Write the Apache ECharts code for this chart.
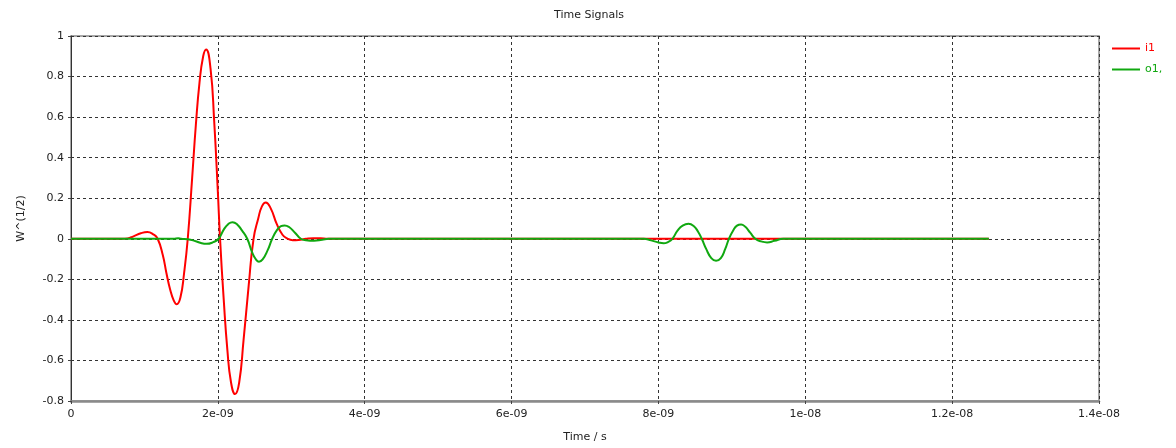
<!DOCTYPE html>
<html>
<head>
<meta charset="utf-8">
<script src="https://cdn.jsdelivr.net/npm/echarts@6/dist/echarts.min.js"></script>
<style>
html,body{margin:0;padding:0;background:#fff;}
#chart{width:1176px;height:448px;}
</style>
</head>
<body>
<div id="chart"></div>
<script>
// Time axis in nanoseconds (tick labels give the seconds notation)
var xTickLabels = ['0', '2e-09', '4e-09', '6e-09', '8e-09', '1e-08', '1.2e-08', '1.4e-08'];

// i1 : time (ns), value
var i1Time = [0, 0.6, 0.7, 0.77, 0.85, 0.95, 1.04, 1.12, 1.18, 1.25, 1.3, 1.35, 1.4, 1.44, 1.49, 1.54, 1.59,
  1.65, 1.7, 1.75, 1.8, 1.84, 1.9, 1.95, 2.0, 2.03, 2.08, 2.13, 2.18, 2.235, 2.29, 2.35, 2.42, 2.486,
  2.55, 2.6, 2.653, 2.72, 2.8, 2.88, 2.95, 3.02, 3.1, 3.2, 3.3, 3.4, 3.5, 3.6, 7.7, 7.8, 9.7, 9.8, 12.5];
var i1Value = [0, 0, 0, 0.002, 0.012, 0.027, 0.033, 0.022, 0, -0.08, -0.17, -0.25, -0.305, -0.323, -0.29, -0.17, 0,
  0.3, 0.56, 0.77, 0.9, 0.934, 0.84, 0.58, 0.23, 0, -0.3, -0.55, -0.71, -0.766, -0.71, -0.5, -0.23, 0,
  0.1, 0.16, 0.179, 0.15, 0.075, 0.02, 0, -0.007, -0.006, 0, 0.003, 0.002, 0, 0, 0, 0, 0, 0, 0];

// o1, : time (ns), value
var o1Time = [0, 1.3, 1.4, 1.46, 1.5, 1.59, 1.7, 1.78, 1.846, 1.93, 2.01, 2.08, 2.14, 2.2, 2.26, 2.33, 2.40,
  2.47, 2.52, 2.56, 2.61, 2.68, 2.74, 2.8, 2.86, 2.91, 2.97, 3.05, 3.13, 3.2, 3.31, 3.42, 3.51, 3.6,
  7.7, 7.8, 7.9, 8.0, 8.07, 8.13, 8.19, 8.26, 8.33, 8.41, 8.48, 8.54, 8.59, 8.65, 8.72, 8.785, 8.85, 8.91, 8.96,
  9.02, 9.07, 9.125, 9.18, 9.25, 9.32, 9.4, 9.48, 9.58, 9.7, 9.8, 12.5];
var o1Value = [0, 0, 0, 0.003, 0, -0.002, -0.012, -0.022, -0.025, -0.018, 0, 0.045, 0.072, 0.082, 0.072, 0.04, 0,
  -0.07, -0.103, -0.113, -0.102, -0.055, 0, 0.04, 0.062, 0.066, 0.058, 0.03, 0, -0.007, -0.01, -0.005, 0, 0,
  0, 0, -0.008, -0.018, -0.022, -0.016, 0, 0.04, 0.065, 0.074, 0.063, 0.035, 0, -0.05, -0.095, -0.108, -0.095, -0.05, 0,
  0.042, 0.065, 0.071, 0.06, 0.03, 0, -0.013, -0.018, -0.01, 0, 0, 0];

function pairs(t, v) { return t.map(function (x, i) { return [x, v[i]]; }); }

var FONT = 'DejaVu Sans';
var chart = echarts.init(document.getElementById('chart'), null, { renderer: 'canvas' });
chart.setOption({
  animation: false,
  backgroundColor: '#fff',
  title: {
    text: 'Time Signals', left: 584, top: 5, textAlign: 'center',
    textStyle: { fontFamily: FONT, fontSize: 11, fontWeight: 'normal', color: '#222' }
  },
  legend: {
    orient: 'vertical', left: 1107, top: 38, itemWidth: 28, itemHeight: 2, itemGap: 10,
    icon: 'rect',
    data: [
      { name: 'i1', textStyle: { color: '#ff0000' } },
      { name: 'o1,', textStyle: { color: '#10a810' } }
    ],
    textStyle: { fontFamily: FONT, fontSize: 11 }
  },
  grid: {
    left: 71, right: 77, top: 36, bottom: 47, show: true,
    borderColor: '#8a8a8a', borderWidth: 1.5, backgroundColor: 'transparent'
  },
  xAxis: {
    type: 'value', min: 0, max: 14, interval: 2,
    name: 'Time / s', nameLocation: 'middle', nameGap: 31,
    nameTextStyle: { fontFamily: FONT, fontSize: 11, color: '#222' },
    axisLine: { show: true, onZero: false, lineStyle: { color: '#8a8a8a', width: 2.5 } },
    axisTick: { show: true, length: 3, lineStyle: { color: '#444' } },
    axisLabel: {
      fontFamily: FONT, fontSize: 11, color: '#222', margin: 8,
      formatter: function (v) { return xTickLabels[Math.round(v / 2)]; }
    },
    splitLine: { show: true, lineStyle: { color: '#333', type: [3, 3], width: 1 } }
  },
  yAxis: {
    type: 'value', min: -0.8, max: 1, interval: 0.2,
    name: 'W^(1/2)', nameLocation: 'middle', nameGap: 44, nameRotate: 90,
    nameTextStyle: { fontFamily: FONT, fontSize: 11, color: '#222' },
    axisLine: { show: true, onZero: false, lineStyle: { color: '#333', width: 1 } },
    axisTick: { show: true, length: 3, lineStyle: { color: '#444' } },
    axisLabel: {
      fontFamily: FONT, fontSize: 11, color: '#222', margin: 7,
      formatter: function (v) { return String(parseFloat(v.toFixed(2))); }
    },
    splitLine: { show: true, lineStyle: { color: '#333', type: [3, 3], width: 1 } }
  },
  series: [
    {
      name: 'i1', type: 'line', data: pairs(i1Time, i1Value),
      smooth: 0.5, showSymbol: false, symbol: 'none',
      itemStyle: { color: '#ff0000' },
      lineStyle: { color: '#ff0000', width: 2 }
    },
    {
      name: 'o1,', type: 'line', data: pairs(o1Time, o1Value),
      smooth: 0.5, showSymbol: false, symbol: 'none',
      itemStyle: { color: '#10a810' },
      lineStyle: { color: '#10a810', width: 2 }
    }
  ]
});
</script>
</body>
</html>
